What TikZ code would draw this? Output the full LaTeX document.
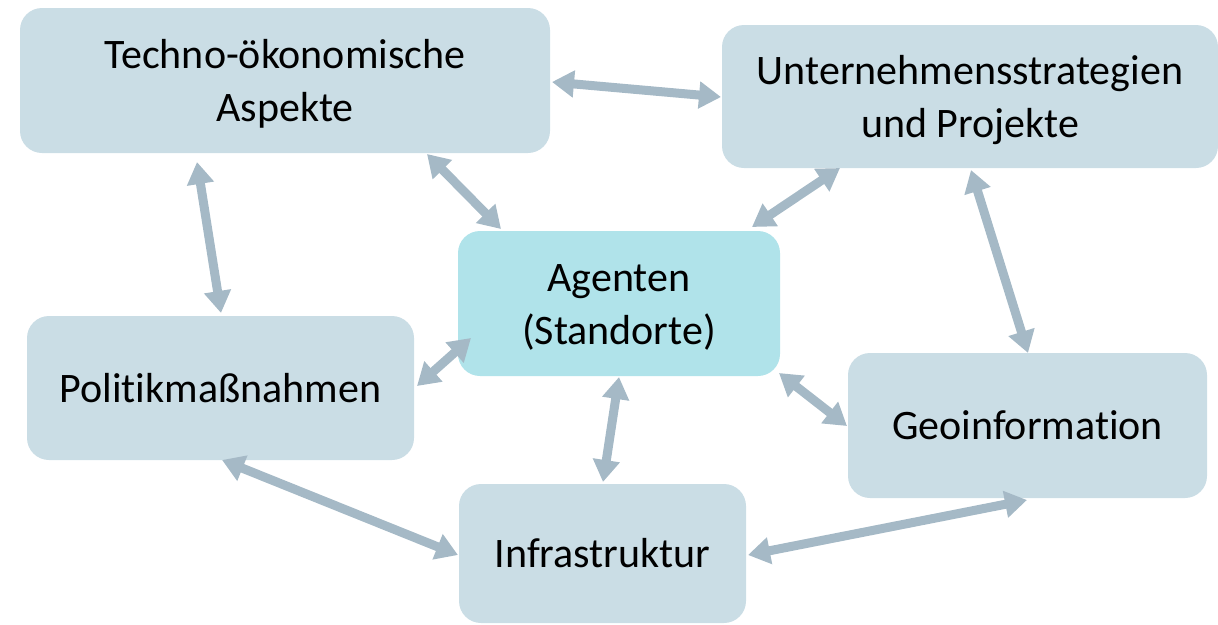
\documentclass[tikz,border=0pt]{standalone}
\usepackage{fontspec}
\setmainfont[Ligatures=NoCommon]{Carlito}
\usetikzlibrary{arrows.meta,calc}
\definecolor{boxfill}{HTML}{CADDE5}
\definecolor{agfill}{HTML}{B0E3EA}
\definecolor{arrowcol}{HTML}{A5B9C6}
\newcommand{\twolines}[2]{\raisebox{-4pt}[\height][\depth]{\begin{tabular}{@{}c@{}}#1\\#2\end{tabular}}}
\tikzset{
  box/.style={rectangle, rounded corners=22pt, fill=boxfill, draw=none, align=center,
    font=\fontsize{42}{53}\selectfont, inner sep=0pt},
  link/.style={draw=arrowcol, line width=9pt,
    {Triangle[width=26pt,length=22pt]}-{Triangle[width=26pt,length=22pt]}}
}
\begin{document}
\begin{tikzpicture}[x=1pt,y=-1pt]
\useasboundingbox (0,0) rectangle (1218,624);
\node[box, minimum width=530pt, minimum height=145pt] (tech) at (285,80.5) {\twolines{Techno-ökonomische}{Aspekte}};
\node[box, minimum width=496pt, minimum height=143pt] (unt) at (970,96.5) {\twolines{Unternehmensstrategien}{und Projekte}};
\node[box, fill=agfill, minimum width=322pt, minimum height=145pt] (ag) at (619,303.5) {\twolines{Agenten}{(Standorte)}};
\node[box, minimum width=387pt, minimum height=144pt] (pol) at (220.5,388) {Politikmaßnahmen};
\node[box, minimum width=359pt, minimum height=145pt] (geo) at (1027.5,425.5) {Geoinformation};
\node[box, minimum width=287pt, minimum height=139pt] (inf) at (602.5,553.5) {Infrastruktur};

\draw[link] ($(tech.center)+(267,1.5)$) -- ($(unt.center)+(-249,0.5)$);
\draw[link] ($(tech.center)+(142,73.5)$) -- ($(ag.center)+(-118,-74.5)$);
\draw[link] ($(unt.center)+(-130,71.5)$) -- ($(ag.center)+(133,-76.5)$);
\draw[link] ($(tech.center)+(-88,81.5)$) -- ($(pol.center)+(0.5,-75)$);
\draw[link] ($(unt.center)+(1,73.5)$) -- ($(geo.center)+(0.5,-72.5)$);
\draw[link] ($(pol.center)+(196.5,-2)$) -- ($(ag.center)+(-148,34.5)$);
\draw[link] ($(ag.center)+(160,69.5)$) -- ($(geo.center)+(-180.5,0.5)$);
\draw[link] ($(ag.center)+(0,73.5)$) -- ($(inf.center)+(0.5,-71.5)$);
\draw[link] ($(pol.center)+(1.5,72)$) -- ($(inf.center)+(-144.5,1.5)$);
\draw[link] ($(inf.center)+(145.5,1.5)$) -- ($(geo.center)+(-0.5,74.5)$);
\end{tikzpicture}
\end{document}
